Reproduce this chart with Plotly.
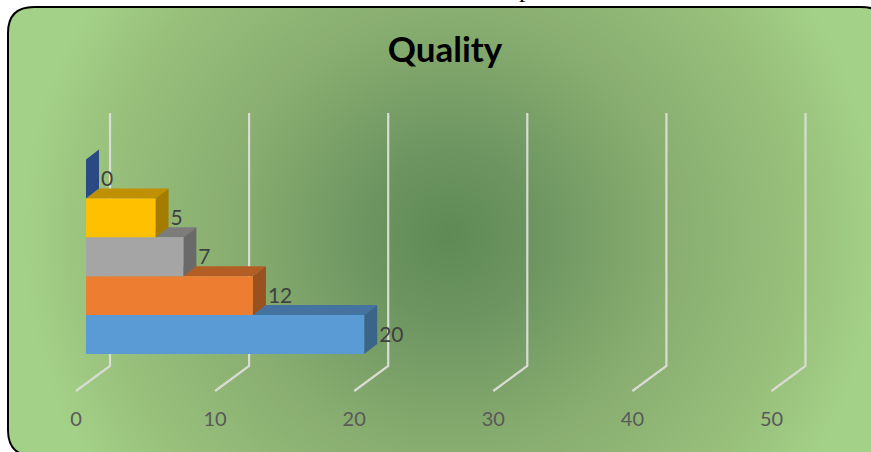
import numpy as np
import plotly.graph_objects as go

WIDTH, HEIGHT = 871, 452

# Chart data
categories = ["A", "B", "C", "D", "E"]
values = [20, 12, 7, 5, 0]
front_colors = ["#5b9bd5", "#ed7d31", "#a5a5a5", "#ffc000", "#264478"]
top_colors = ["#44739f", "#b25e25", "#7c7c7c", "#bf9000", "#1d335a"]
side_colors = ["#3a6589", "#99511f", "#6a6a6a", "#a47c00", "#2b4a84"]
grid_values = [0, 10, 20, 30, 40, 50]
tick_labels = ["0", "10", "20", "30", "40", "50"]

# Pixel scale of the value and category axes
PX_PER_UNIT = 13.91
PX_PER_CAT = 38.9
ZERO_X = 86
BASE_Y = 354
FLOOR_Y = 405

# Extrusion of each bar, in axis units
DX = 13 / PX_PER_UNIT
DY = 10 / PX_PER_CAT

# Back wall and floor geometry, in axis units
WALL_DX = 24 / PX_PER_UNIT
FRONT_DX = -10 / PX_PER_UNIT
WALL_BOTTOM = -12 / PX_PER_CAT
WALL_TOP = (BASE_Y - 113) / PX_PER_CAT
FRONT_Y = -37 / PX_PER_CAT

fig = go.Figure()

# Radial backdrop
gx = np.linspace(0, WIDTH, 219)
gy = np.linspace(0, HEIGHT, 114)
X, Y = np.meshgrid(gx, gy)
dist = np.hypot(X - 450, Y - 235)
fig.add_trace(go.Heatmap(
    x=gx, y=gy, z=dist, zmin=0, zmax=430, zsmooth="best", showscale=False,
    hoverinfo="skip", xaxis="x", yaxis="y",
    colorscale=[[0, "#5f8a55"], [0.19, "#6c9460"], [0.5, "#88ad70"],
                [0.81, "#98c07b"], [1, "#a4d188"]],
))

# Gridlines running up the wall and forward over the floor
grid_x, grid_y = [], []
for v in grid_values:
    grid_x += [v + WALL_DX, v + WALL_DX, v + FRONT_DX, None]
    grid_y += [WALL_TOP, WALL_BOTTOM, FRONT_Y, None]
fig.add_trace(go.Scatter(
    x=grid_x, y=grid_y, mode="lines", xaxis="x2", yaxis="y2",
    line=dict(color="#d9dcd5", width=2.2), hoverinfo="skip", showlegend=False,
))


def add_face(xs, ys, color):
    fig.add_trace(go.Scatter(
        x=xs, y=ys, mode="lines", fill="toself", fillcolor=color,
        line=dict(width=0), xaxis="x2", yaxis="y2", hoverinfo="skip", showlegend=False,
    ))


# Extruded bars, stacked upward so each bar's front hides the top of the one below
for i, v in enumerate(values):
    add_face([0, v, v + DX, DX, 0], [i + 1, i + 1, i + 1 + DY, i + 1 + DY, i + 1], top_colors[i])
    add_face([v, v + DX, v + DX, v, v], [i, i + DY, i + 1 + DY, i + 1, i], side_colors[i])
    add_face([0, v, v, 0, 0], [i, i, i + 1, i + 1, i], front_colors[i])

# Value labels beside each bar
fig.add_trace(go.Scatter(
    x=[v + 15 / PX_PER_UNIT for v in values],
    y=[i + 0.5 - 2 / PX_PER_CAT for i in range(len(values))],
    text=[str(v) for v in values], mode="text", textposition="middle right",
    textfont=dict(family="Lato", size=21, color="#404040"),
    xaxis="x2", yaxis="y2", hoverinfo="skip", showlegend=False,
))

# Rounded frame: white outside the card, black outline on top
card = "M8,33 Q8,7 34,7 L861,7 Q888,7 888,33 L888,430 Q888,456 862,456 L34,456 Q8,456 8,430 Z"
outer = f"M-2,-2 L{WIDTH+2},-2 L{WIDTH+2},{HEIGHT+2} L-2,{HEIGHT+2} Z "
fig.add_shape(type="path", path=outer + card, xref="x", yref="y",
              fillcolor="white", line=dict(width=0), layer="above")
fig.add_shape(type="path", path=card, xref="x", yref="y",
              fillcolor="rgba(0,0,0,0)", line=dict(color="black", width=2), layer="above")

fig.update_layout(
    width=WIDTH, height=HEIGHT, margin=dict(l=0, r=0, t=0, b=0),
    paper_bgcolor="white", plot_bgcolor="rgba(0,0,0,0)",
    showlegend=False,
    title=dict(text="<b>Quality</b>", x=445 / WIDTH, xanchor="center",
               y=1 - 50 / HEIGHT, yanchor="middle",
               font=dict(family="Lato", size=35, color="black")),
    xaxis=dict(domain=[0, 1], range=[0, WIDTH], visible=False),
    yaxis=dict(domain=[0, 1], range=[HEIGHT, 0], visible=False),
    xaxis2=dict(domain=[0, 1], anchor="y2",
                range=[-ZERO_X / PX_PER_UNIT, (WIDTH - ZERO_X) / PX_PER_UNIT],
                tickmode="array",
                tickvals=[v + FRONT_DX for v in grid_values], ticktext=tick_labels,
                tickfont=dict(family="Lato", size=20, color="#595959"),
                showgrid=False, zeroline=False, showline=False, ticks=""),
    yaxis2=dict(domain=[(HEIGHT - FLOOR_Y) / HEIGHT, 1], anchor="x2",
                range=[(BASE_Y - FLOOR_Y) / PX_PER_CAT, BASE_Y / PX_PER_CAT],
                visible=False),
    annotations=[dict(text="p", xref="paper", yref="paper", x=525 / WIDTH, y=1,
                      xanchor="center", yanchor="bottom", yshift=-5, showarrow=False,
                      font=dict(family="Liberation Serif", size=26, color="black"))],
)

fig.write_html("out.html")
